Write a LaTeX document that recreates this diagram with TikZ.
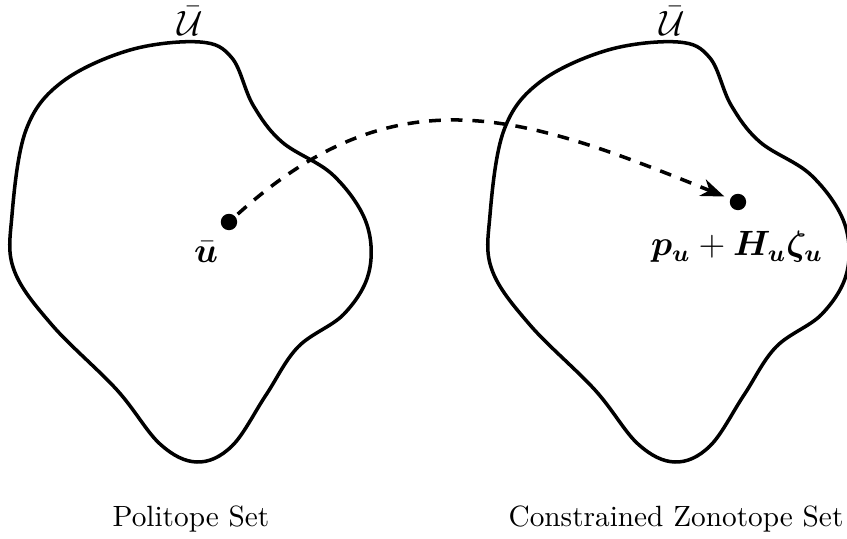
\documentclass[tikz,border=0pt]{standalone}
\usepackage{amsmath,bm}
\usetikzlibrary{arrows.meta}
\tikzset{
  blob/.style={line width=1.2pt, line join=round},
  dotnode/.style={circle, fill=black, inner sep=0pt, minimum size=5.6pt},
  maplink/.style={line width=1.2pt, dash pattern=on 4pt off 3.4pt, -{Stealth[length=8pt,width=6pt,inset=2.5pt]}},
  caption/.style={anchor=base, inner sep=0pt, font=\normalsize},
  mathlabel/.style={inner sep=0pt, font=\large}
}
\begin{document}
\begin{tikzpicture}[x={(0.3413pt,0)}, y={(0,-0.3413pt)}]
\useasboundingbox (0,0) rectangle (847,539);
\begin{scope}
\clip (0,0) rectangle (847,539);
\foreach \dx in {0,478}{
\draw[blob, xshift=\dx*0.3413pt] plot[smooth cycle, tension=0.6] coordinates {
 (200,42) (232,58) (253,105) (282,142) (333,175) (366,222)
 (369,272) (344,314) (298,347) (266,395) (232,446) (197,462) (160,444)
 (117,390) (52,325) (14,270) (12,215) (26,130) (62,82) (130,50)};
}
\end{scope}
\node[mathlabel] (UL) at (190,21) {$\bar{\mathcal{U}}$};
\node[mathlabel] (UR) at (672,21) {$\bar{\mathcal{U}}$};
\node[dotnode] (dL) at (229,222) {};
\node[dotnode] (dR) at (738,202) {};
\node[mathlabel] (uL) at (206,252) {$\bar{\bm{u}}$};
\node[mathlabel] (pR) at (737,247) {$\bm{p}_{\bm{u}} + \bm{H}_{\bm{u}}\bm{\zeta}_{\bm{u}}$};
\draw[maplink, shorten >=2pt, shorten <=1pt] (dL) to[out=42, in=158, distance=75pt] (dR);
\node[caption] (cL) at (191,527) {Politope Set};
\node[caption, anchor=base east] (cR) at (844,527) {Constrained Zonotope Set};
\end{tikzpicture}
\end{document}
